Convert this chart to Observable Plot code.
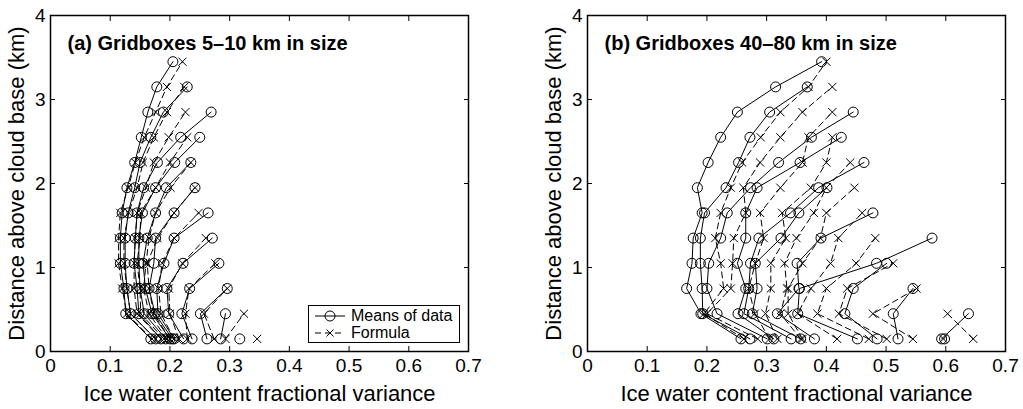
<!DOCTYPE html>
<html><head><meta charset="utf-8">
<script src="https://cdn.jsdelivr.net/npm/d3@7"></script>
<script src="https://cdn.jsdelivr.net/npm/@observablehq/plot@0.6"></script>
<style>
body{margin:0;background:#fff;}
#wrap{position:relative;width:1023px;height:409px;font-family:"Liberation Sans",Arial,Helvetica,sans-serif;background:#fff;}
.panel{position:absolute;top:0;}
#legend{position:absolute;left:308px;top:305px;width:150px;height:36px;border:1.5px solid #000;background:#fff;font-size:16px;}
#legend .row{position:absolute;left:0;height:18px;display:flex;align-items:center;}
#legend svg{display:block;}
</style></head><body><div id="wrap"></div>
<script>
// heights above cloud base (km)
const heights = [0.15, 0.45, 0.75, 1.05, 1.35, 1.65, 1.95, 2.25, 2.55, 2.85, 3.15, 3.45];
const xTicks = [0, 0.1, 0.2, 0.3, 0.4, 0.5, 0.6, 0.7];
const xTickLabels = ["0", "0.1", "0.2", "0.3", "0.4", "0.5", "0.6", "0.7"];
const yTicks = [0, 1, 2, 3, 4];
const yTickLabels = ["0", "1", "2", "3", "4"];
const titleA = "(a) Gridboxes 5–10 km in size";
const titleB = "(b) Gridboxes 40–80 km in size";
const xLabel = "Ice water content fractional variance";
const yLabel = "Distance above cloud base (km)";
const legendLabels = ["Means of data", "Formula"];

// Panel (a): one list per height level, series in order
const meansA = [
  [0.168, 0.176, 0.185, 0.193, 0.200, 0.204, 0.207, 0.223, 0.237, 0.262, 0.285, 0.317],
  [0.126, 0.134, 0.148, 0.157, 0.170, 0.175, 0.180, 0.198, 0.220, 0.251, 0.293],
  [0.123, 0.128, 0.145, 0.150, 0.159, 0.165, 0.178, 0.195, 0.233, 0.296],
  [0.117, 0.125, 0.140, 0.148, 0.155, 0.173, 0.190, 0.222, 0.282],
  [0.117, 0.125, 0.142, 0.148, 0.162, 0.176, 0.207, 0.271],
  [0.120, 0.130, 0.145, 0.154, 0.176, 0.207, 0.264],
  [0.128, 0.141, 0.156, 0.176, 0.194, 0.242],
  [0.141, 0.150, 0.179, 0.208, 0.235],
  [0.152, 0.168, 0.218, 0.250],
  [0.163, 0.189, 0.269],
  [0.178, 0.229],
  [0.205]
];
const formulaA = [
  [0.170, 0.176, 0.185, 0.190, 0.195, 0.200, 0.207, 0.215, 0.229, 0.274, 0.293, 0.346],
  [0.128, 0.134, 0.145, 0.151, 0.165, 0.173, 0.185, 0.200, 0.226, 0.257, 0.324],
  [0.120, 0.128, 0.140, 0.150, 0.156, 0.165, 0.181, 0.198, 0.232, 0.296],
  [0.114, 0.123, 0.140, 0.145, 0.160, 0.162, 0.187, 0.221, 0.276],
  [0.114, 0.123, 0.142, 0.150, 0.165, 0.179, 0.207, 0.260],
  [0.117, 0.131, 0.145, 0.151, 0.176, 0.207, 0.248],
  [0.130, 0.145, 0.160, 0.176, 0.201, 0.242],
  [0.142, 0.155, 0.173, 0.200, 0.235],
  [0.157, 0.173, 0.198, 0.229],
  [0.176, 0.195, 0.226],
  [0.195, 0.224],
  [0.221]
];
// Panel (b)
const meansB = [
  [0.257, 0.272, 0.301, 0.312, 0.341, 0.357, 0.380, 0.452, 0.485, 0.520, 0.593, 0.598],
  [0.190, 0.193, 0.217, 0.252, 0.262, 0.276, 0.318, 0.352, 0.431, 0.512, 0.638],
  [0.166, 0.192, 0.200, 0.265, 0.270, 0.284, 0.354, 0.355, 0.445, 0.545],
  [0.175, 0.189, 0.203, 0.251, 0.273, 0.281, 0.351, 0.484, 0.501],
  [0.177, 0.189, 0.223, 0.265, 0.287, 0.324, 0.391, 0.577],
  [0.192, 0.196, 0.234, 0.265, 0.340, 0.354, 0.478],
  [0.184, 0.232, 0.273, 0.284, 0.387, 0.401],
  [0.202, 0.253, 0.320, 0.356, 0.463],
  [0.223, 0.272, 0.375, 0.425],
  [0.251, 0.305, 0.445],
  [0.315, 0.368],
  [0.392]
];
const formulaB = [
  [0.262, 0.285, 0.305, 0.318, 0.357, 0.360, 0.418, 0.471, 0.501, 0.545, 0.646, 0.596],
  [0.195, 0.200, 0.280, 0.298, 0.323, 0.336, 0.352, 0.385, 0.421, 0.478, 0.603],
  [0.228, 0.240, 0.270, 0.307, 0.334, 0.336, 0.374, 0.400, 0.435, 0.551],
  [0.223, 0.243, 0.281, 0.307, 0.330, 0.360, 0.407, 0.450, 0.512],
  [0.214, 0.245, 0.295, 0.332, 0.350, 0.390, 0.420, 0.482],
  [0.223, 0.265, 0.289, 0.326, 0.379, 0.400, 0.460],
  [0.240, 0.261, 0.323, 0.374, 0.400, 0.447],
  [0.259, 0.289, 0.360, 0.400, 0.440],
  [0.290, 0.323, 0.370, 0.410],
  [0.323, 0.360, 0.410],
  [0.370, 0.410],
  [0.400]
];

const FONT = '"Liberation Sans", Arial, Helvetica, sans-serif';

function toRows(levels) {
  const rows = [];
  heights.forEach((h, L) => levels[L].forEach((v, s) => rows.push({h, v, s})));
  return rows;
}

function panel(title, means, formula, width, ml, mr) {
  const rm = toRows(means), rf = toRows(formula);
  return Plot.plot({
    width, height: 409,
    marginLeft: ml, marginRight: mr, marginTop: 15, marginBottom: 58,
    x: {domain: [0, 0.7]},
    y: {domain: [0, 4]},
    style: {fontFamily: FONT, color: "#000", background: "#fff", overflow: "visible"},
    marks: [
      Plot.line(rf, {x: "v", y: "h", z: "s", stroke: "#000", strokeWidth: 1, strokeDasharray: "6,4"}),
      Plot.line(rm, {x: "v", y: "h", z: "s", stroke: "#000", strokeWidth: 1}),
      Plot.dot(rm, {x: "v", y: "h", r: 5, stroke: "#000", fill: "none", strokeWidth: 1}),
      Plot.dot(rf, {x: "v", y: "h", r: 3.8, symbol: "times", stroke: "#000", fill: "none", strokeWidth: 1}),
      Plot.axisX(xTicks, {tickSize: -5, fill: "none", label: null}),
      Plot.axisX(xTicks, {anchor: "top", tickSize: -5, fill: "none", label: null}),
      Plot.axisY(yTicks, {tickSize: -5, fill: "none", label: null}),
      Plot.axisY(yTicks, {anchor: "right", tickSize: -5, fill: "none", label: null}),
      Plot.axisX(xTicks, {tickSize: 0, tickPadding: 7, fontSize: 19, label: null,
        tickFormat: d => xTickLabels[xTicks.indexOf(d)]}),
      Plot.axisY(yTicks, {tickSize: 0, tickPadding: 5, fontSize: 19, label: null,
        tickFormat: d => yTickLabels[yTicks.indexOf(d)]}),
      Plot.frame({stroke: "#000", strokeWidth: 1.5}),
      Plot.text([title], {text: d => d, frameAnchor: "top-left", dx: 17, dy: 28,
        fontSize: 20, fontWeight: "bold", textAnchor: "start", lineAnchor: "middle", fill: "#000"}),
      Plot.text([xLabel], {text: d => d, frameAnchor: "bottom", dy: 42,
        fontSize: 22, textAnchor: "middle", lineAnchor: "middle", fill: "#000"}),
      Plot.text([yLabel], {text: d => d, frameAnchor: "left", dx: -34, rotate: -90,
        fontSize: 22, textAnchor: "middle", lineAnchor: "middle", fill: "#000"})
    ]
  });
}

const wrap = document.getElementById("wrap");
const a = panel(titleA, meansA, formulaA, 511, 50, 43);
a.classList.add("panel"); a.style.left = "0px";
const b = panel(titleB, meansB, formulaB, 512, 76, 18);
b.classList.add("panel"); b.style.left = "511px";
wrap.appendChild(a); wrap.appendChild(b);

// legend (inside panel a, lower right)
const leg = document.createElement("div");
leg.id = "legend";
leg.innerHTML = `
<div class="row" style="top:1px">
  <svg width="42" height="18"><line x1="6" y1="9" x2="36" y2="9" stroke="#000" stroke-width="1"/><circle cx="21" cy="9" r="5" fill="none" stroke="#000"/></svg>
  <span>${legendLabels[0]}</span></div>
<div class="row" style="top:18px">
  <svg width="42" height="18"><line x1="6" y1="9" x2="36" y2="9" stroke="#000" stroke-width="1" stroke-dasharray="6,4"/><path d="M17.5,5.5L24.5,12.5M24.5,5.5L17.5,12.5" stroke="#000" fill="none"/></svg>
  <span>${legendLabels[1]}</span></div>`;
wrap.appendChild(leg);
</script>
</body></html>
